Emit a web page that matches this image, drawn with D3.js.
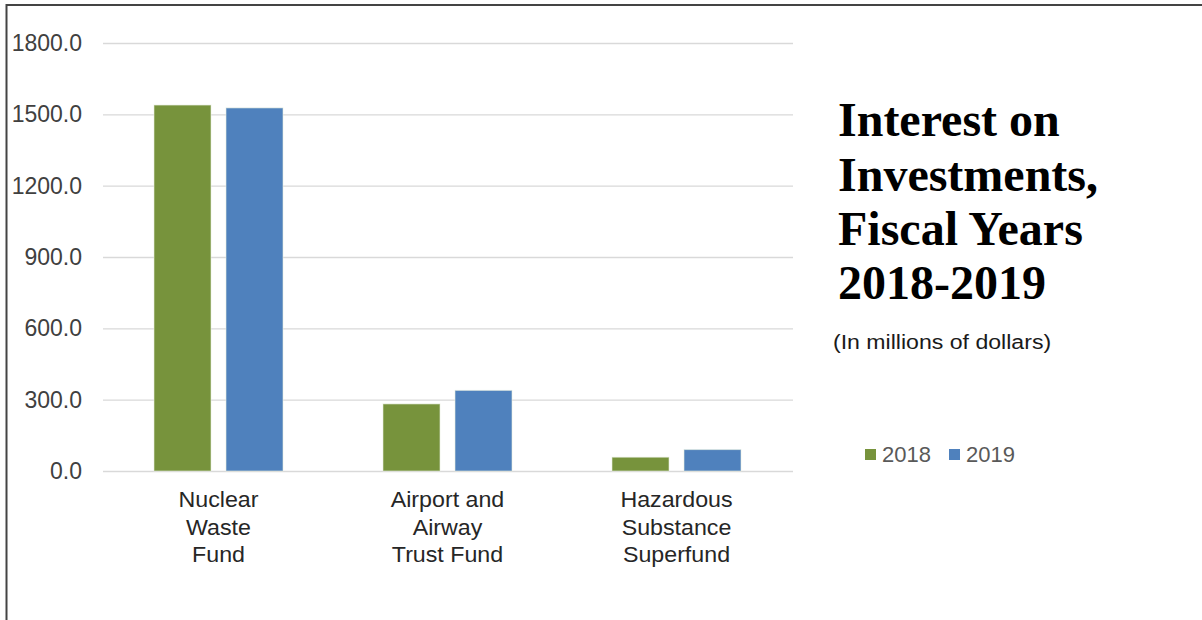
<!DOCTYPE html>
<html><head><meta charset="utf-8">
<script src="https://cdn.jsdelivr.net/npm/d3@7"></script>
<style>body{margin:0;background:#fff;}svg{display:block;}</style>
</head><body>
<script>
const categories = [["Nuclear","Waste","Fund"],["Airport and","Airway","Trust Fund"],["Hazardous","Substance","Superfund"]];
const seriesNames = ["2018","2019"];
const values2018 = [1539, 282, 58];
const values2019 = [1527, 339, 90];
const tickValues = [0, 300, 600, 900, 1200, 1500, 1800];
const titleLines = ["Interest on","Investments,","Fiscal Years","2018-2019"];
const subtitle = "(In millions of dollars)";
const colors = ["#77933C","#4F81BD"];

const W = 1202, H = 620;
const SANS = "Liberation Sans, Arial, sans-serif";
const svg = d3.select("body").append("svg").attr("width", W).attr("height", H);

// frame
svg.append("line").attr("x1",6.5).attr("x2",6.5).attr("y1",4).attr("y2",H).attr("stroke","#444").attr("stroke-width",2);
svg.append("line").attr("x1",6).attr("x2",W).attr("y1",5).attr("y2",5).attr("stroke","#444").attr("stroke-width",2);

const x0 = d3.scaleBand().domain(d3.range(categories.length)).range([104, 791]);
const y = d3.scaleLinear().domain([0,1800]).range([471, 43]);

// gridlines
svg.append("g").selectAll("line").data(tickValues).join("line")
  .attr("x1",103).attr("x2",793)
  .attr("y1",d=>y(d)+0.5).attr("y2",d=>y(d)+0.5)
  .attr("stroke","#d9d9d9").attr("stroke-width",1.3);

// y axis labels
const yAxis = d3.axisLeft(y).tickValues(tickValues).tickFormat(d3.format(".1f")).tickSize(0).tickPadding(0);
const ga = svg.append("g").attr("transform","translate(82,0)").call(yAxis);
ga.select(".domain").remove();
ga.selectAll("text").attr("font-family",SANS).attr("font-size",23).attr("fill","#404040").attr("dy","0.32em");

// bars
const barW = 57, gap = 15;
const data = categories.map((c,i)=>({i, vals:[values2018[i], values2019[i]]}));
const g = svg.append("g");
data.forEach(d=>{
  const cx = x0(d.i) + x0.bandwidth()/2;
  d.vals.forEach((v,k)=>{
    const left = cx - gap/2 - barW + k*(barW+gap);
    g.append("rect").attr("x",left).attr("width",barW)
      .attr("y",y(v)).attr("height",y(0)-y(v))
      .attr("fill",colors[k]).attr("stroke","#e8eedf").attr("stroke-opacity",0.6).attr("stroke-width",1);
  });
});

// category labels
data.forEach(d=>{
  const cx = x0(d.i) + x0.bandwidth()/2;
  const t = svg.append("text").attr("x",cx).attr("y",507.5)
    .attr("text-anchor","middle").attr("font-family",SANS)
    .attr("font-size",21.5).attr("fill","#262626")
    .attr("transform",`translate(${cx},0) scale(1.08,1) translate(${-cx},0)`);
  categories[d.i].forEach((line,j)=>{
    t.append("tspan").attr("x",cx).attr("dy", j===0?0:27.2).text(line);
  });
});

// title
const tt = svg.append("text").attr("x",838).attr("y",136)
  .attr("font-family","Liberation Serif, Times New Roman, serif").attr("font-weight","bold")
  .attr("font-size",48).attr("fill","#000");
const titleBase = [136, 191, 245, 299];
titleLines.forEach((l,j)=>tt.append("tspan").attr("x",838).attr("y",titleBase[j]).text(l));

svg.append("text").attr("x",833).attr("y",349).attr("font-family",SANS)
  .attr("font-size",21).attr("fill","#1a1a1a")
  .attr("transform","translate(833,0) scale(1.1,1) translate(-833,0)").text(subtitle);

// legend
const legX = [865, 949];
seriesNames.forEach((s,k)=>{
  svg.append("rect").attr("x",legX[k]).attr("y",449).attr("width",11).attr("height",11).attr("fill",colors[k]);
  svg.append("text").attr("x",legX[k]+17).attr("y",462).attr("font-family",SANS)
    .attr("font-size",22).attr("fill","#595959").text(s);
});
</script>
</body></html>
